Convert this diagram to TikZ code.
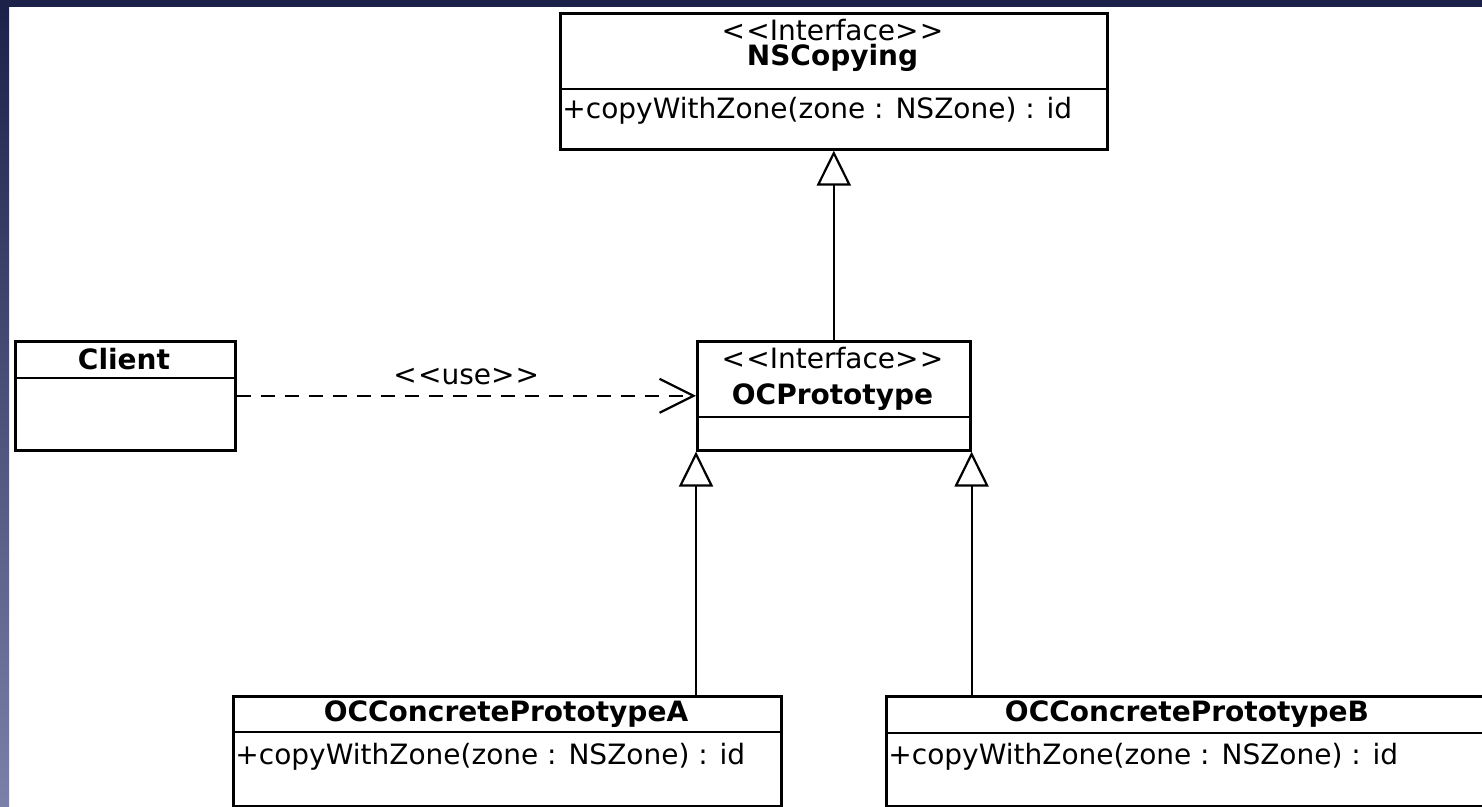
\documentclass[tikz,border=0pt]{standalone}
\usepackage{fontspec}
\setmainfont{DejaVu Sans}
\usetikzlibrary{arrows.meta}
\definecolor{navy}{RGB}{27,33,72}
\definecolor{navylight}{RGB}{122,128,168}
\newcommand\stereo[1]{<\kern0.6pt<#1>\kern0.6pt>}
\tikzset{
    classbox/.style={draw, line width=1.3pt, anchor=north west, inner sep=0pt},
    divider/.style={line width=1.3pt},
    txt/.style={inner sep=0pt, font=\fontsize{14}{16}\selectfont},
    classname/.style={txt, font=\fontsize{14}{16}\selectfont\bfseries},
    realize/.style={line width=1.1pt, -{Triangle[open, length=17.5pt, width=17pt, fill=white]}},
    usedep/.style={line width=1.1pt, dash pattern=on 7pt off 5pt, -{Straight Barb[length=17pt, width=17pt]}}
}
\begin{document}
\begin{tikzpicture}[x=0.5pt, y=-0.5pt]
    \useasboundingbox (0,0) rectangle (1482,807);
    % frame
    \shade[top color=navy, bottom color=navylight] (0,0) rectangle (9,807);
    \fill[navy] (0,0) rectangle (1482,7);

    % classes
    \node[classbox, minimum width=273.5pt, minimum height=68pt] (nscopying) at (559,12) {};
    \draw[divider] (559,89) -- (1106,89);
    \node[txt] (nscopyingster) at (832.5,30) {\stereo{Interface}};
    \node[classname] (nscopyingname) at (832.5,58) {NSCopying};
    \node[txt, anchor=west] (nscopyingop) at (562,111) {+copyWithZone(zone : NSZone) : id};

    \node[classbox, minimum width=110pt, minimum height=54.5pt] (client) at (14,340) {};
    \draw[divider] (14,378) -- (234,378);
    \node[classname] (clientname) at (124,359) {Client};

    \node[classbox, minimum width=136.5pt, minimum height=54.5pt] (proto) at (696,340) {};
    \draw[divider] (696,417) -- (969,417);
    \node[txt] (protoster) at (832.5,358) {\stereo{Interface}};
    \node[classname] (protoname) at (832.5,397) {OCPrototype};

    \node[classbox, minimum width=274pt, minimum height=55pt] (conA) at (232,695) {};
    \draw[divider] (232,732) -- (780,732);
    \node[classname] (conAname) at (506,714) {OCConcretePrototypeA};
    \node[txt, anchor=west] (conAop) at (235,757) {+copyWithZone(zone : NSZone) : id};

    \node[classbox, minimum width=302.5pt, minimum height=55pt] (conB) at (885,695) {};
    \draw[divider] (885,733) -- (1490,733);
    \node[classname] (conBname) at (1187,714) {OCConcretePrototypeB};
    \node[txt, anchor=west] (conBop) at (888,757) {+copyWithZone(zone : NSZone) : id};

    % relations
    \draw[realize] (proto.north) -- (nscopying.south);
    \draw[realize] (proto.south west |- conA.north) -- (proto.south west);
    \draw[realize] (proto.south east |- conB.north) -- (proto.south east);
    \draw[usedep] (client.east) -- node[txt, above=5pt] (uselabel) {\stereo{use}} (proto.west);
\end{tikzpicture}
\end{document}
